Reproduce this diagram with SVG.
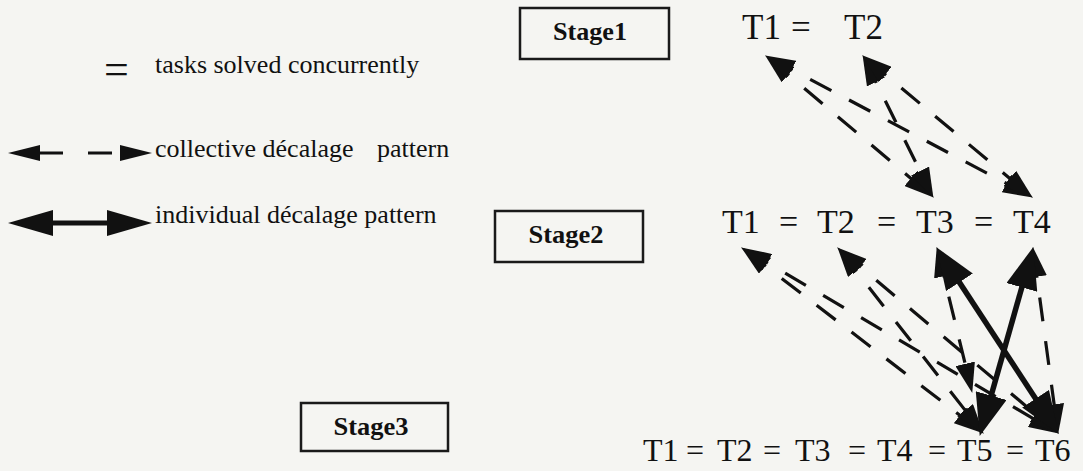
<svg xmlns="http://www.w3.org/2000/svg" width="1083" height="471" viewBox="0 0 1083 471">
  <style>
    .bg { fill: #f5f5f2; }
    .stage-box { fill: none; stroke: #1a1a1a; stroke-width: 2.5; }
    .stage-label { font-family: 'Liberation Serif', Tinos, 'DejaVu Serif', 'Noto Serif', serif; font-weight: bold; font-size: 25px; fill: #111; }
    .task { font-family: 'Liberation Serif', Tinos, 'DejaVu Serif', 'Noto Serif', serif; fill: #111; }
    .key-text { font-family: 'Liberation Serif', Tinos, 'DejaVu Serif', 'Noto Serif', serif; font-size: 26px; fill: #111; }
    .collective { fill: none; stroke: #111; stroke-width: 3.2; stroke-dasharray: 24 20; marker-start: url(#head-dash); marker-end: url(#head-dash); }
    .individual { fill: none; stroke: #111; stroke-width: 5.5; marker-start: url(#head-solid); marker-end: url(#head-solid); }
  </style>
  <defs>
    <!-- arrowheads: tip overhangs the path end so the stroke stays hidden inside the head -->
    <marker id="head-dash" markerUnits="userSpaceOnUse" viewBox="0 0 30 20" markerWidth="30" markerHeight="20" refX="23" refY="10" orient="auto-start-reverse">
      <path d="M0,0 L30,10 L0,20 z" fill="#111"/>
    </marker>
    <marker id="head-solid" markerUnits="userSpaceOnUse" viewBox="0 0 42 32" markerWidth="42" markerHeight="32" refX="34" refY="16" orient="auto-start-reverse">
      <path d="M0,0 L42,16 L0,32 z" fill="#111"/>
    </marker>
    <!-- key arrowheads sit with their base on the path end -->
    <marker id="key-dash" markerUnits="userSpaceOnUse" viewBox="0 0 32 16" markerWidth="32" markerHeight="16" refX="0" refY="8" orient="auto-start-reverse">
      <path d="M0,0 L32,8 L0,16 z" fill="#111"/>
    </marker>
    <marker id="key-solid" markerUnits="userSpaceOnUse" viewBox="0 0 45 26" markerWidth="45" markerHeight="26" refX="0" refY="13" orient="auto-start-reverse">
      <path d="M0,0 L45,13 L0,26 z" fill="#111"/>
    </marker>
  </defs>

  <rect class="bg" x="0" y="0" width="1083" height="471"/>

  <!-- key -->
  <g id="key">
    <text class="task" x="104" y="84" font-size="44">=</text>
    <text class="key-text" x="155" y="73">tasks solved concurrently</text>
    <path d="M40,153 H120" fill="none" stroke="#111" stroke-width="3" stroke-dasharray="23 25 24 100" marker-start="url(#key-dash)" marker-end="url(#key-dash)"/>
    <text class="key-text" y="157"><tspan x="155">collective décalage</tspan><tspan x="377">pattern</tspan></text>
    <path d="M53,223 H107" fill="none" stroke="#111" stroke-width="5" marker-start="url(#key-solid)" marker-end="url(#key-solid)"/>
    <text class="key-text" x="155" y="223">individual décalage pattern</text>
  </g>

  <!-- stage boxes -->
  <g id="stage1">
    <rect class="stage-box" x="520" y="8" width="149" height="51"/>
    <text class="stage-label" x="590" y="40" text-anchor="middle" textLength="74" lengthAdjust="spacingAndGlyphs">Stage1</text>
  </g>
  <g id="stage2">
    <rect class="stage-box" x="495" y="211" width="148" height="51"/>
    <text class="stage-label" x="566" y="243" text-anchor="middle" textLength="75" lengthAdjust="spacingAndGlyphs">Stage2</text>
  </g>
  <g id="stage3">
    <rect class="stage-box" x="301" y="403" width="147" height="48"/>
    <text class="stage-label" x="371" y="435" text-anchor="middle" textLength="75" lengthAdjust="spacingAndGlyphs">Stage3</text>
  </g>

  <!-- stage 1 tasks -->
  <g id="s1-row" class="task" font-size="35">
    <g id="s1-t1"><text x="742" y="39">T1</text></g>
    <text x="791" y="39">=</text>
    <g id="s1-t2"><text x="844" y="39">T2</text></g>
  </g>

  <!-- stage 2 tasks -->
  <g id="s2-row" class="task" font-size="34">
    <g id="s2-t1"><text x="722" y="233">T1</text></g>
    <text x="779" y="233">=</text>
    <g id="s2-t2"><text x="817" y="233">T2</text></g>
    <text x="877" y="233">=</text>
    <g id="s2-t3"><text x="916" y="233">T3</text></g>
    <text x="974" y="233">=</text>
    <g id="s2-t4"><text x="1013" y="233">T4</text></g>
  </g>

  <!-- stage 3 tasks -->
  <g id="s3-row" class="task" font-size="32">
    <g id="s3-t1"><text x="643" y="461">T1</text></g>
    <text x="686" y="461">=</text>
    <g id="s3-t2"><text x="717" y="461">T2</text></g>
    <text x="763" y="461">=</text>
    <g id="s3-t3"><text x="795" y="461">T3</text></g>
    <text x="848" y="461">=</text>
    <g id="s3-t4"><text x="877" y="461">T4</text></g>
    <text x="928" y="461">=</text>
    <g id="s3-t5"><text x="957" y="461">T5</text></g>
    <text x="1006" y="461">=</text>
    <g id="s3-t6"><text x="1035" y="461">T6</text></g>
  </g>

  <!-- connectors -->
  <g id="connectors">
    <!-- stage 1 to stage 2 -->
    <path class="collective" d="M770.6,59.9 L928.4,193.1"/>
    <path class="collective" d="M771.3,58.8 L1026.7,194.2"/>
    <path class="collective" d="M865.7,61.4 L930.3,191.6"/>
    <path class="collective" d="M867.6,59.8 L1027.4,193.2"/>
    <!-- stage 2 to stage 3 -->
    <path class="collective" d="M746.8,251.7 L978.2,429.3"/>
    <path class="collective" d="M747.2,251.0 L1052.8,430.0"/>
    <path class="collective" d="M841.7,252.7 L979.3,428.3"/>
    <path class="collective" d="M842.6,251.9 L1053.4,429.1"/>
    <path class="collective" d="M938.4,253.8 L970.6,386.2"/>
    <path class="collective" d="M1033.8,253.9 L1057.2,427.1"/>
    <path class="individual" d="M940.8,253.9 L1054.2,427.1"/>
    <path class="individual" d="M1031.1,254.7 L981.9,428.3"/>
  </g>
</svg>
